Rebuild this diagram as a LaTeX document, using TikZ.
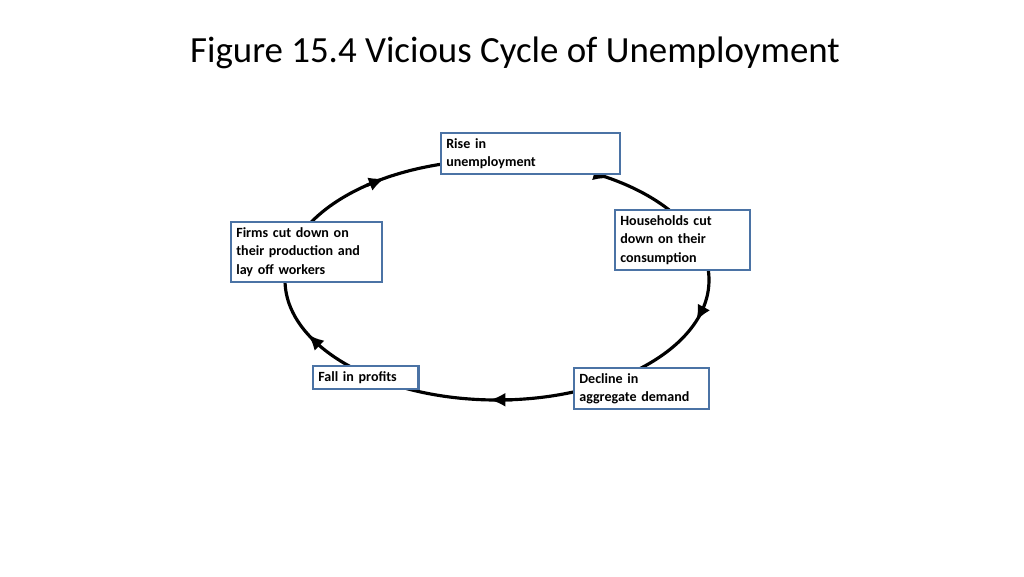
\documentclass[tikz,border=0pt]{standalone}
\usepackage{fontspec}
\setmainfont{Carlito}
\usetikzlibrary{arrows.meta}
\definecolor{boxblue}{RGB}{75,115,165}
\tikzset{
  stagebox/.style={draw=boxblue,line width=1.2pt,fill=white,align=left,
    font=\bfseries\fontsize{8}{10.5}\selectfont,inner sep=3pt,anchor=north west}
}
\begin{document}
\begin{tikzpicture}[x=0.02cm,y=-0.02cm]
  \useasboundingbox (0,0) rectangle (1024,576);
  \pgfmathsetmacro\cx{497}
  \pgfmathsetmacro\cy{280}
  \pgfmathsetmacro\rx{212}
  \pgfmathsetmacro\ry{120}
  % title:
  \node[font=\fontsize{21}{25}\selectfont\addfontfeature{}] (title) at (515,53) {Figure 15.4 Vicious Cycle of Unemployment};
  % the cycle:
  \draw[line width=1.8pt] (\cx,\cy) ellipse [x radius=\rx, y radius=\ry];
  % arrow heads on the cycle:
  \foreach \t in {238,302,20,92,153}
    \draw[line width=1.8pt,-{Latex[length=9pt,width=8pt]}]
      ({\cx+\rx*cos(\t-6)},{\cy+\ry*sin(\t-6)}) -- ({\cx+\rx*cos(\t)},{\cy+\ry*sin(\t)});
  % stages:
  \node[stagebox,text width=96pt] (rise) at (440,132) {Rise in\\unemployment};
  \node[stagebox,text width=71pt] (house) at (614,209) {Households cut\\down on their\\consumption};
  \node[stagebox,text width=71pt] (decline) at (573,367) {Decline in\\aggregate demand};
  \node[stagebox,text width=54pt] (fall) at (312,365) {Fall in profits};
  \node[stagebox,text width=80pt] (firms) at (230,221) {Firms cut down on\\their production and\\lay off workers};
\end{tikzpicture}
\end{document}
